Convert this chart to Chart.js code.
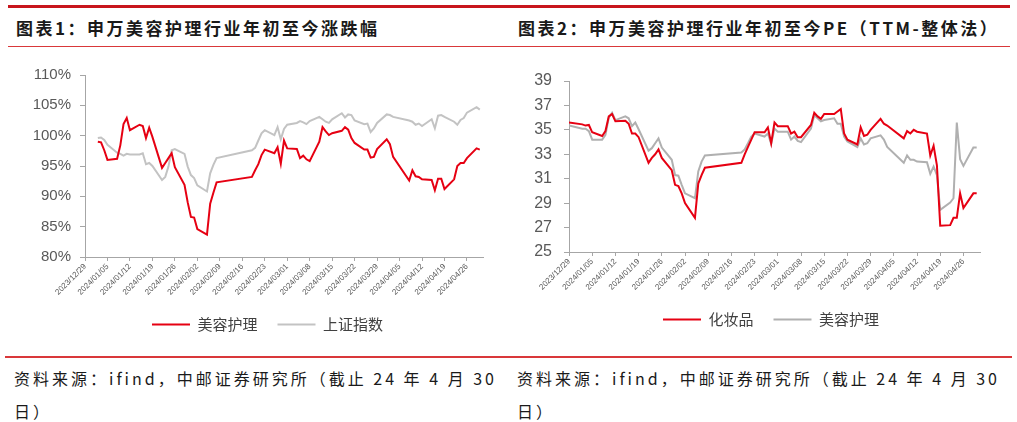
<!DOCTYPE html>
<html>
<head>
<meta charset="utf-8">
<script src="https://cdn.jsdelivr.net/npm/chart.js@4.4.1/dist/chart.umd.min.js"></script>
<style>
body{margin:0;width:1017px;height:422px;background:#fff;position:relative;overflow:hidden;font-family:"Noto Sans CJK SC",sans-serif;}
.bar{position:absolute;background:#c8161d;}
.title{position:absolute;top:16px;font-size:17px;font-weight:bold;letter-spacing:2.5px;color:#1a1a1a;line-height:24px;white-space:nowrap;}
.src{position:absolute;top:362px;font-size:16px;letter-spacing:3px;line-height:33px;color:#1a1a1a;white-space:nowrap;}
canvas{position:absolute;}
</style>
</head>
<body>
<div class="bar" style="left:8px;top:5px;width:1002px;height:3px"></div>
<div class="title" style="left:16px">图表1：申万美容护理行业年初至今涨跌幅</div>
<div class="title" style="left:518px">图表2：申万美容护理行业年初至今PE（TTM-整体法）</div>
<div class="bar" style="left:8px;top:46px;width:1002px;height:1px;background:#d9383a"></div>

<canvas id="c1" width="505" height="292" style="left:0;top:50px"></canvas>
<canvas id="c2" width="507" height="287" style="left:510px;top:50px"></canvas>

<div class="bar" style="left:5px;top:356px;width:1007px;height:2px;background:#d9383a"></div>
<div class="src" style="left:14px">资料来源：ifind，中邮证券研究所（截止 24 年 4 月 30<br>日）</div>
<div class="src" style="left:517px">资料来源：ifind，中邮证券研究所（截止 24 年 4 月 30<br>日）</div>

<script>
// trading days 2024/01/02 - 2024/04/30
const tradeDays = [
  '2024/01/02','2024/01/03','2024/01/04','2024/01/05','2024/01/08','2024/01/09','2024/01/10','2024/01/11','2024/01/12',
  '2024/01/15','2024/01/16','2024/01/17','2024/01/18','2024/01/19','2024/01/22','2024/01/23','2024/01/24','2024/01/25',
  '2024/01/26','2024/01/29','2024/01/30','2024/01/31',
  '2024/02/01','2024/02/02','2024/02/05','2024/02/06','2024/02/07','2024/02/08','2024/02/19','2024/02/20','2024/02/21',
  '2024/02/22','2024/02/23','2024/02/26','2024/02/27','2024/02/28','2024/02/29',
  '2024/03/01','2024/03/04','2024/03/05','2024/03/06','2024/03/07','2024/03/08','2024/03/11','2024/03/12','2024/03/13',
  '2024/03/14','2024/03/15','2024/03/18','2024/03/19','2024/03/20','2024/03/21','2024/03/22','2024/03/25','2024/03/26',
  '2024/03/27','2024/03/28','2024/03/29',
  '2024/04/01','2024/04/02','2024/04/03','2024/04/08','2024/04/09','2024/04/10','2024/04/11','2024/04/12','2024/04/15',
  '2024/04/16','2024/04/17','2024/04/18','2024/04/19','2024/04/22','2024/04/23','2024/04/24','2024/04/25','2024/04/26',
  '2024/04/29','2024/04/30'
];
const datesPE = ['2023/12/29'].concat(tradeDays);

// 图表1 (%)
const beautyPct = [
  99.0,98.9,97.6,96.0,96.2,98.4,101.9,102.9,100.9,101.8,101.6,99.6,101.3,99.8,94.7,95.5,96.3,97.1,94.8,91.9,89.0,86.6,
  86.5,84.6,83.7,88.8,90.6,92.3,93.2,94.3,95.3,96.8,97.7,97.1,98.1,95.4,99.2,
  97.9,97.8,96.3,96.7,96.1,95.8,99.0,101.4,100.7,100.1,100.4,100.8,101.4,101.0,99.6,98.8,97.7,97.7,96.4,96.5,97.8,
  99.4,98.6,96.5,92.6,94.3,93.3,93.2,92.8,92.7,91.0,92.9,92.9,91.2,92.8,95.0,95.5,95.5,96.3,97.9,97.7
];
const ssePct = [
  99.6,99.7,99.3,98.5,97.2,97.0,96.7,97.0,96.9,96.9,97.1,95.3,95.5,95.0,92.7,93.2,94.9,97.6,97.8,97.0,94.9,93.5,
  93.0,91.8,90.8,93.8,95.2,96.3,97.6,98.0,99.2,100.4,100.9,100.1,101.4,99.4,101.1,
  101.8,102.1,102.4,102.2,101.9,102.4,103.1,102.7,102.3,102.1,102.7,103.7,103.0,103.5,103.4,102.5,101.9,102.0,100.6,101.2,102.1,
  103.5,103.4,103.1,102.5,102.3,101.8,102.0,101.6,102.7,101.2,103.3,103.4,103.1,102.3,101.8,102.6,102.9,103.8,104.7,104.3
];

// 图表2 (PE)
const cosmeticsPE = [
  35.6,
  35.45,35.35,35.4,34.8,34.5,34.9,36.1,36.3,35.7,35.75,35.5,34.7,34.7,34.4,32.3,32.7,33.0,33.4,32.7,31.7,30.5,30.4,
  29.8,29.0,27.8,30.6,31.3,31.9,32.3,33.0,33.6,34.2,34.8,34.8,35.2,33.9,35.6,
  35.3,35.3,34.7,34.85,34.4,34.4,35.4,36.4,36.1,35.9,36.3,36.3,36.5,36.7,34.7,34.2,33.8,35.2,34.5,34.6,35.0,
  35.9,35.5,35.35,34.3,34.9,34.7,35.0,34.85,34.7,32.9,33.7,32.1,27.15,27.2,27.8,27.8,29.8,28.6,29.8,29.8
];
const beautyPE = [
  35.35,
  35.1,35.1,34.9,34.2,34.2,34.6,36.0,36.4,35.8,36.1,35.95,35.3,35.6,35.05,33.3,33.5,33.9,34.3,33.55,32.55,31.3,31.25,
  30.5,29.8,29.4,31.6,32.4,32.9,33.15,33.4,33.9,34.45,34.7,34.45,34.7,33.85,35.1,
  34.85,34.85,34.2,34.45,34.1,34.0,35.1,36.2,35.95,35.7,35.8,35.95,35.5,35.5,34.45,34.05,33.6,34.3,33.8,33.9,34.3,
  34.55,34.2,33.6,32.3,32.9,32.55,32.55,32.4,32.35,31.4,32.0,31.3,28.45,29.05,29.4,35.6,32.6,32.05,33.55,33.55
];

const RED = '#e60012';
const GREY1 = '#c3c3c3';
const GREY2 = '#b0b0b0';
const AXIS = '#a6a6a6';
const TXT = '#595959';

const base = Date.UTC(2023, 11, 29);
function dayIndex(s) {
  const p = s.split('/');
  return (Date.UTC(+p[0], +p[1] - 1, +p[2]) - base) / 86400000;
}
function dayLabel(d) {
  const t = new Date(base + d * 86400000);
  return t.getUTCFullYear() + '/' + String(t.getUTCMonth() + 1).padStart(2, '0') + '/' + String(t.getUTCDate()).padStart(2, '0');
}
function pts(dates, vals) {
  return dates.map((d, i) => ({x: dayIndex(d), y: vals[i]}));
}

// legend is centred a bit right of the canvas middle in the original
const legendShift = {
  id: 'legendShift',
  afterLayout(chart) {
    chart.legend.left += 26;
    chart.legend.right += 26;
  }
};

function makeChart(id, cfg) {
  return new Chart(document.getElementById(id), {
    type: 'line',
    data: {datasets: cfg.datasets},
    plugins: [legendShift],
    options: {
      responsive: false,
      animation: false,
      devicePixelRatio: 1,
      layout: {padding: cfg.padding},
      elements: {point: {radius: 0}, line: {borderWidth: 2, tension: 0}},
      plugins: {
        tooltip: {enabled: false},
        legend: {
          position: 'bottom',
          labels: {
            usePointStyle: true, pointStyle: 'line', pointStyleWidth: 38,
            padding: 20, color: '#404040',
            font: {family: '"Noto Sans CJK SC", sans-serif', size: 15},
            generateLabels: chart => chart.data.datasets.map((ds, i) => ({
              text: ds.label, datasetIndex: i, hidden: false,
              strokeStyle: ds.borderColor, fillStyle: ds.borderColor,
              lineWidth: 2, pointStyle: 'line', fontColor: '#404040'
            }))
          }
        }
      },
      scales: {
        x: {
          type: 'linear', min: 0, max: 124,
          afterFit: s => { s.height = 40; },
          border: {color: AXIS, width: 1},
          grid: {drawOnChartArea: false, color: AXIS, tickLength: 4},
          ticks: {
            stepSize: 7, includeBounds: false, autoSkip: false,
            minRotation: 45, maxRotation: 45, padding: 1,
            color: TXT, font: {family: '"Liberation Sans", Arial', size: 8},
            callback: v => dayLabel(v)
          }
        },
        y: {
          min: cfg.yMin, max: cfg.yMax,
          afterFit: s => { s.width = cfg.yWidth; },
          border: {color: AXIS, width: 1},
          grid: {drawOnChartArea: false, color: AXIS, tickLength: 5},
          ticks: {
            stepSize: cfg.yStep, padding: cfg.yPad,
            color: TXT, font: {family: '"Liberation Sans", Arial', size: cfg.yFont},
            callback: cfg.yFmt
          }
        }
      }
    }
  });
}

makeChart('c1', {
  datasets: [
    {label: '美容护理', data: pts(tradeDays, beautyPct), borderColor: RED, backgroundColor: RED},
    {label: '上证指数', data: pts(tradeDays, ssePct), borderColor: GREY1, backgroundColor: GREY1}
  ],
  padding: {left: 0, right: 22, top: 25, bottom: 0},
  yMin: 80, yMax: 110, yStep: 5, yWidth: 85, yPad: 9, yFont: 15,
  yFmt: v => v + '%'
});

makeChart('c2', {
  datasets: [
    {label: '化妆品', data: pts(datesPE, cosmeticsPE), borderColor: RED, backgroundColor: RED},
    {label: '美容护理', data: pts(datesPE, beautyPE), borderColor: GREY2, backgroundColor: GREY2}
  ],
  padding: {left: 0, right: 37, top: 31, bottom: 0},
  yMin: 25, yMax: 39, yStep: 2, yWidth: 59, yPad: 12, yFont: 16,
  yFmt: v => v
});
</script>
</body>
</html>
